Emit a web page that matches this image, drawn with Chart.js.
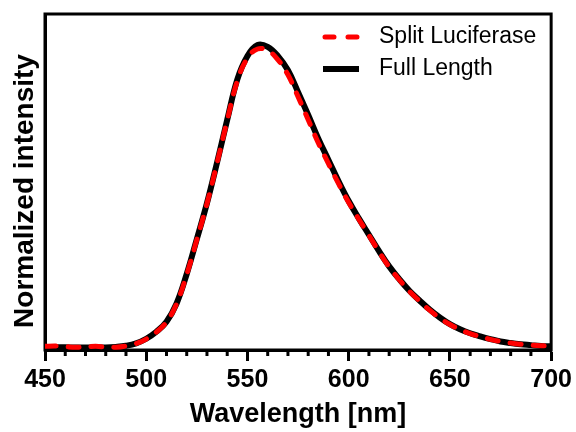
<!DOCTYPE html>
<html>
<head>
<meta charset="utf-8">
<script src="https://cdn.jsdelivr.net/npm/chart.js@4.4.0/dist/chart.umd.min.js"></script>
<style>
  html, body { margin: 0; padding: 0; background: #fff; }
  #wrap { width: 576px; height: 432px; }
</style>
</head>
<body>
<div id="wrap"><canvas id="c" width="576" height="432"></canvas></div>
<script>
// wavelength (nm), read every 5 nm from the picture
const wavelengths = [450, 455, 460, 465, 470, 475, 480, 485, 490, 495,
  500, 505, 510, 515, 520, 525, 530, 535, 540, 545,
  550, 555, 560, 565, 570, 575, 580, 585, 590, 595,
  600, 605, 610, 615, 620, 625, 630, 635, 640, 645,
  650, 655, 660, 665, 670, 675, 680, 685, 690, 695, 700]

const fullLength = [0.004, 0.004, 0.004, 0.003, 0.003, 0.003, 0.003, 0.005, 0.009, 0.017,
  0.032, 0.055, 0.088, 0.148, 0.245, 0.36, 0.478, 0.612, 0.752, 0.885,
  0.962, 0.998, 0.992, 0.962, 0.915, 0.843, 0.768, 0.69, 0.62, 0.55,
  0.485, 0.428, 0.374, 0.32, 0.27, 0.228, 0.19, 0.158, 0.128, 0.102,
  0.08, 0.063, 0.05, 0.04, 0.031, 0.023, 0.018, 0.014, 0.011, 0.008, 0.007]

const splitLuciferase = [0.007, 0.008, 0.006, 0.004, 0.005, 0.007, 0.005, 0.004, 0.008, 0.016,
  0.031, 0.054, 0.087, 0.147, 0.243, 0.358, 0.476, 0.61, 0.75, 0.88,
  0.955, 0.985, 0.98, 0.95, 0.9, 0.828, 0.752, 0.676, 0.608, 0.542,
  0.48, 0.425, 0.372, 0.318, 0.268, 0.226, 0.188, 0.156, 0.126, 0.1,
  0.079, 0.062, 0.049, 0.039, 0.03, 0.023, 0.018, 0.014, 0.011, 0.009, 0.008]

const seriesNames = ["Split Luciferase", "Full Length"]
const xTickValues = [450, 500, 550, 600, 650, 700]
const yTitle = "Normalized intensity"

const FONT = "'Liberation Sans', Arial, sans-serif"

// box round the plot, minor ticks, y title and the legend in the top right corner
const framePlugin = {
  id: 'frame',
  beforeDatasetsDraw(chart) {
    const { ctx, chartArea: a } = chart
    const x = chart.scales.x
    ctx.save()
    ctx.strokeStyle = '#000'
    ctx.lineWidth = 3
    ctx.strokeRect(a.left, a.top, a.right - a.left, a.bottom - a.top)
    for (let v = 450; v <= 700; v += 10) {
      if (v % 50 === 0) continue
      const px = x.getPixelForValue(v)
      ctx.beginPath()
      ctx.moveTo(px, a.bottom)
      ctx.lineTo(px, a.bottom + 6)
      ctx.stroke()
    }
    // y axis title, a little below the plot centre as in the picture
    ctx.translate(25, (a.top + a.bottom) / 2 + 9)
    ctx.rotate(-Math.PI / 2)
    ctx.font = 'bold 28px ' + FONT
    ctx.fillStyle = '#000'
    ctx.textAlign = 'center'
    ctx.textBaseline = 'middle'
    ctx.fillText(yTitle, 0, 0)
    ctx.restore()
  },
  afterDraw(chart) {
    const { ctx } = chart
    ctx.save()
    ctx.font = '23px ' + FONT
    ctx.textBaseline = 'middle'
    chart.data.datasets.forEach((ds, i) => {
      const y = 37 + i * 32
      ctx.beginPath()
      ctx.strokeStyle = ds.borderColor
      ctx.lineWidth = ds.borderWidth
      ctx.lineCap = ds.borderCapStyle || 'butt'
      ctx.setLineDash(ds.borderDash ? [9, 14] : [])
      if (ds.borderDash) {
        ctx.moveTo(325, y)
        ctx.lineTo(357, y)
      } else {
        ctx.moveTo(323, y)
        ctx.lineTo(359, y)
      }
      ctx.stroke()
      ctx.setLineDash([])
      ctx.fillStyle = '#000'
      ctx.fillText(ds.label, 379, y)
    })
    ctx.restore()
  }
}

new Chart(document.getElementById('c'), {
  type: 'line',
  data: {
    labels: wavelengths,
    datasets: [{
      label: seriesNames[0],
      data: wavelengths.map((w, i) => ({ x: w, y: splitLuciferase[i] })),
      borderColor: '#ff0000',
      borderWidth: 5,
      borderDash: [11, 12],
      borderCapStyle: 'round',
      pointRadius: 0,
      tension: 0.4,
      fill: false
    }, {
      label: seriesNames[1],
      data: wavelengths.map((w, i) => ({ x: w, y: fullLength[i] })),
      borderColor: '#000000',
      borderWidth: 6,
      pointRadius: 0,
      tension: 0.4,
      fill: false
    }]
  },
  options: {
    responsive: false,
    animation: false,
    layout: { padding: { top: 14, right: 24, left: 0, bottom: 0 } },
    plugins: { legend: { display: false }, tooltip: { enabled: false } },
    scales: {
      x: {
        type: 'linear',
        min: 450,
        max: 700,
        afterFit(s) { s.height = 82 },
        afterBuildTicks(s) { s.ticks = xTickValues.map(v => ({ value: v })) },
        border: { display: true, color: '#000', width: 3 },
        grid: { drawOnChartArea: false, drawTicks: true, tickLength: 11, tickWidth: 3, tickColor: '#000' },
        ticks: { color: '#000', font: { family: FONT, size: 25, weight: 'bold' }, padding: 4, maxRotation: 0 },
        title: { display: true, text: 'Wavelength [nm]', color: '#000', font: { family: FONT, size: 27, weight: 'bold' }, padding: { top: 0, bottom: 1 } }
      },
      y: {
        min: -0.005,
        max: 1.1,
        afterFit(s) { s.width = 45 },
        border: { display: true, color: '#000', width: 3 },
        grid: { display: false },
        ticks: { display: false },
        title: { display: false }
      }
    }
  },
  plugins: [framePlugin]
})
</script>
</body>
</html>
